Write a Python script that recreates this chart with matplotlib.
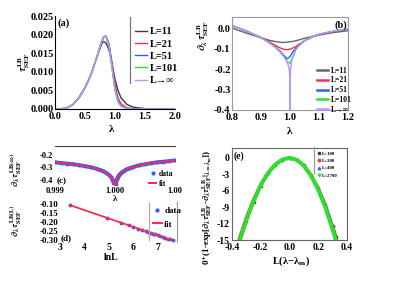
import matplotlib
matplotlib.use("Agg")
import matplotlib.pyplot as plt
from matplotlib.lines import Line2D

plt.rcParams["font.family"] = ["Liberation Serif", "DejaVu Serif"]
plt.rcParams["font.weight"] = "bold"
plt.rcParams["mathtext.fontset"] = "stix"
plt.rcParams["axes.unicode_minus"] = False

W, H = 399, 291

# ---- (a) tau_SEF^LB vs lambda
a_lam = [0.0, 0.1, 0.2, 0.3, 0.4, 0.5, 0.6, 0.7, 0.75, 0.8, 0.85, 0.9, 0.95,
         1.0, 1.05, 1.1, 1.2, 1.3, 1.5, 1.7, 2.0]
a_L11 = [0, 0.00003, 0.0003, 0.0012, 0.0031, 0.0058, 0.0093, 0.0140, 0.0163, 0.0182,
         0.0178, 0.0158, 0.0122, 0.0080, 0.0050, 0.0030, 0.0012, 0.0005, 0.0001, 0, 0]
a_L21 = [0, 0.00003, 0.0003, 0.0012, 0.0030, 0.0057, 0.0092, 0.0140, 0.0167, 0.0190,
         0.0196, 0.0176, 0.0125, 0.0066, 0.0030, 0.0014, 0.0003, 0.00005, 0, 0, 0]
a_L51 = [0, 0.00003, 0.0003, 0.0012, 0.0030, 0.0057, 0.0092, 0.0141, 0.0168, 0.0192,
         0.0197, 0.0172, 0.0115, 0.0055, 0.0022, 0.0009, 0.0001, 0, 0, 0, 0]
a_L101 = [0, 0.00003, 0.0003, 0.0012, 0.0030, 0.0057, 0.0092, 0.0141, 0.0168, 0.0192,
          0.0197, 0.0170, 0.0112, 0.0052, 0.0020, 0.0008, 0.0001, 0, 0, 0, 0]
a_Linf = [0, 0.00003, 0.0003, 0.0012, 0.0030, 0.0057, 0.0092, 0.0141, 0.0168, 0.0192,
          0.0196, 0.0168, 0.0110, 0.0050, 0.0018, 0.0007, 0.0001, 0, 0, 0, 0]

# ---- (b) derivative vs lambda
b_lam = [0.80, 0.85, 0.90, 0.93, 0.95, 0.97, 0.98, 0.99, 1.00, 1.01, 1.02, 1.03,
         1.05, 1.08, 1.10, 1.15, 1.20]
b_L11 = [0.0, -0.025, -0.048, -0.060, -0.066, -0.070, -0.070, -0.069, -0.067, -0.065,
         -0.062, -0.058, -0.050, -0.040, -0.034, -0.022, -0.013]
b_L21 = [0.012, -0.015, -0.045, -0.068, -0.085, -0.100, -0.104, -0.106, -0.103, -0.097,
         -0.090, -0.080, -0.062, -0.042, -0.033, -0.018, -0.008]
b_L51 = [0.012, -0.015, -0.047, -0.072, -0.092, -0.118, -0.135, -0.150, -0.140, -0.115,
         -0.098, -0.085, -0.062, -0.040, -0.031, -0.016, -0.006]
b_L101 = [0.012, -0.015, -0.047, -0.073, -0.094, -0.122, -0.140, -0.165, -0.172, -0.140,
          -0.105, -0.088, -0.062, -0.040, -0.030, -0.015, -0.005]
b_lam_inf = [0.80, 0.85, 0.90, 0.93, 0.95, 0.97, 0.98, 0.99, 0.995, 0.998, 0.999, 1.000,
             1.001, 1.002, 1.005, 1.01, 1.02, 1.03, 1.05, 1.08, 1.10, 1.15, 1.20]
b_Linf = [0.013, -0.015, -0.047, -0.073, -0.095, -0.124, -0.142, -0.165, -0.185, -0.21,
          -0.24, -0.40, -0.24, -0.20, -0.17, -0.14, -0.105, -0.088, -0.062, -0.040,
          -0.030, -0.015, -0.005]

# ---- (c) L -> inf derivative near lambda = 1
c_lam = [0.9990, 0.9991, 0.9992, 0.9993, 0.9994, 0.9995, 0.9996, 0.9997, 0.99975,
         0.9998, 0.99985, 0.9999, 0.99993, 0.99995, 0.99997, 0.99998, 0.99999, 1.0,
         1.00001, 1.00002, 1.00003, 1.00005, 1.00007, 1.0001, 1.00015, 1.0002,
         1.00025, 1.0003, 1.0004, 1.0005, 1.0006, 1.0007, 1.0008, 1.0009, 1.0010]
c_data = [-0.260, -0.265, -0.270, -0.275, -0.282, -0.290, -0.299, -0.312, -0.320,
          -0.329, -0.342, -0.359, -0.374, -0.389, -0.411, -0.428, -0.458, -0.47,
          -0.443, -0.413, -0.396, -0.374, -0.359, -0.344, -0.327, -0.314, -0.305,
          -0.297, -0.284, -0.275, -0.267, -0.260, -0.255, -0.250, -0.245]
c_fit = [-0.261, -0.265, -0.270, -0.276, -0.282, -0.290, -0.299, -0.311, -0.320,
         -0.329, -0.342, -0.359, -0.374, -0.389, -0.411, -0.428, -0.458, -0.47,
         -0.443, -0.413, -0.396, -0.374, -0.359, -0.344, -0.327, -0.314, -0.305,
         -0.297, -0.284, -0.275, -0.267, -0.261, -0.255, -0.250, -0.246]

# ---- (d) minimum of derivative vs lnL
d_lnL = [3.4, 4.9, 5.5, 5.8, 6.0, 6.2, 6.35, 6.5, 6.6, 6.7, 6.8, 6.9, 7.0, 7.1,
         7.2, 7.3, 7.4, 7.5, 7.6]
d_data = [-0.105, -0.175, -0.202, -0.216, -0.226, -0.235, -0.242, -0.249, -0.253,
          -0.258, -0.263, -0.267, -0.272, -0.277, -0.281, -0.286, -0.291, -0.295, -0.300]
d_fit_x = [3.4, 7.6]
d_fit_y = [-0.105, -0.300]

# ---- (e) scaling collapse
e_x = [-0.36, -0.345, -0.3, -0.25, -0.2, -0.15, -0.1, -0.05, 0.0, 0.05, 0.1, 0.15,
       0.2, 0.25, 0.3, 0.325, 0.34]
e_L100 = [-16.5, -15.2, -11.5, -8.0, -5.1, -2.85, -1.27, -0.33, 0, -0.34, -1.38,
          -3.1, -5.5, -8.6, -12.5, -14.5, -16.2]
e_L200 = [-15.7, -14.3, -10.8, -7.5, -4.8, -2.7, -1.2, -0.3, 0, -0.35, -1.4, -3.2,
          -5.6, -8.8, -12.7, -14.9, -16.5]
e_L400 = [-16.3, -14.9, -11.2, -7.85, -4.97, -2.78, -1.24, -0.32, 0, -0.35, -1.43,
          -3.25, -5.75, -9.0, -13.0, -15.2, -16.8]
e_L2700 = [-16.4, -15.0, -11.3, -7.9, -5.0, -2.8, -1.25, -0.32, 0, -0.36, -1.45,
           -3.3, -5.8, -9.1, -13.1, -15.3, -16.9]

GRAY, RED, BLUE, GREEN, PURPLE = "#3a3a3a", "#ff2a50", "#2f5cff", "#2ee02e", "#b596ff"


def box(l, t, r, b):
    return [l / W, 1 - b / H, (r - l) / W, (b - t) / H]


def vline_fig(fig, x, y0, y1, color="#777777", lw=0.9):
    fig.add_artist(Line2D([x / W, x / W], [1 - y0 / H, 1 - y1 / H],
                          color=color, lw=lw, transform=fig.transFigure))


fig = plt.figure(figsize=(W / 100, H / 100), dpi=100, facecolor="white")

# ================= (a)
ax = fig.add_axes(box(55, 16, 175, 109))
for y, c, lab in [(a_L11, GRAY, "L=11"), (a_L21, RED, "L=21"), (a_L51, BLUE, "L=51"),
                  (a_L101, GREEN, "L=101"), (a_Linf, PURPLE, "L→∞")]:
    ax.plot(a_lam, y, color=c, lw=1.0, label=lab)
ax.set_xlim(0, 2.0)
ax.set_ylim(0, 0.025)
ax.set_xticks([0.0, 0.5, 1.0, 1.5, 2.0])
ax.set_xticklabels(["0.0", "0.5", "1.0", "1.5", "2.0"])
ax.set_yticks([0, 0.005, 0.01, 0.015, 0.02, 0.025])
ax.set_yticklabels(["0.000", "0.005", "0.010", "0.015", "0.020", "0.025"])
for s in ["top", "right"]:
    ax.spines[s].set_visible(False)
ax.tick_params(length=0, labelsize=7.5, pad=1)
ax.tick_params(axis="x", pad=2.5)
ax.text(0.02, 0.9, "(a)", transform=ax.transAxes, fontsize=7.5, fontweight="bold")
ax.legend(loc="upper left", bbox_to_anchor=(130 / W, 1 - 22 / H),
          bbox_transform=fig.transFigure, frameon=False, fontsize=7.5,
          handlelength=1.1, handletextpad=0.3, borderpad=0, labelspacing=0.28)
vline_fig(fig, 130, 17, 83)
fig.text(112 / W, 1 - 129 / H, "λ", fontsize=8, ha="center", va="center")
fig.text(24 / W, 1 - 62 / H, r"$\tau^{\rm LB}_{\rm SEF}$", fontsize=7.5,
         rotation=90, ha="center", va="center")

# ================= (b)
ax = fig.add_axes(box(232, 17, 348, 110))
ax.plot(b_lam, b_L11, color="#666666", lw=1.0, label="L=11")
ax.plot(b_lam, b_L21, color=RED, lw=1.0, label="L=21")
ax.plot(b_lam, b_L51, color=BLUE, lw=1.0, label="L=51")
ax.plot(b_lam, b_L101, color=GREEN, lw=1.0, label="L=101")
ax.plot(b_lam_inf, b_Linf, color=PURPLE, lw=1.0, label="L→∞")
ax.set_xlim(0.8, 1.2)
ax.set_ylim(-0.4, 0.054)
ax.set_xticks([0.8, 0.9, 1.0, 1.1, 1.2])
ax.set_yticks([0.0, -0.1, -0.2, -0.3, -0.4])
ax.set_yticklabels(["0.0", "-0.1", "-0.2", "-0.3", "-0.4"])
for s in ax.spines.values():
    s.set_color("#999999")
    s.set_linewidth(0.8)
ax.tick_params(length=0, labelsize=7.5, pad=1)
ax.tick_params(axis="x", pad=2.5)
ax.text(0.88, 0.88, "(b)", transform=ax.transAxes, fontsize=7.5, fontweight="bold")
leg = ax.legend(loc="upper left", bbox_to_anchor=(313 / W, 1 - 63 / H),
                bbox_transform=fig.transFigure, frameon=False, fontsize=5.5,
                handlelength=1.5, handletextpad=0.4, borderpad=0, labelspacing=0.22)
for h in leg.get_lines():
    h.set_linewidth(1.8)
fig.text(290 / W, 1 - 132 / H, "λ", fontsize=8, ha="center", va="center")
fig.text(203 / W, 1 - 36 / H, r"$\partial_\lambda\,\tau^{\rm LB}_{\rm SEF}$", fontsize=7.5,
         rotation=90, ha="center", va="center")

# ================= (c)
ax = fig.add_axes(box(55, 146, 175, 185))
ax.plot(c_lam, c_data, color=BLUE, lw=2.8, marker="o", ms=1.8)
ax.plot(c_lam, c_fit, color=RED, lw=1.3)
ax.set_xlim(0.999, 1.001)
ax.set_ylim(-0.44, -0.13)
ax.set_xticks([0.999, 1.000, 1.001])
ax.set_xticklabels(["0.999", "1.000", "1.00"])
ax.set_yticks([-0.2, -0.3, -0.4])
ax.set_yticklabels(["-0.2", "-0.3", "-0.4"])
for s in ["left", "right", "bottom"]:
    ax.spines[s].set_visible(False)
ax.spines["top"].set_color("#444444")
ax.tick_params(length=0, labelsize=6, pad=1.5)
ax.text(0.01, 0.05, "(c)", transform=ax.transAxes, fontsize=6.5, fontweight="bold")
ax.legend([Line2D([], [], ls="none", marker="o", ms=2, color=BLUE),
           Line2D([], [], color=RED, lw=1.5)], ["data", "fit"],
          loc="upper left", bbox_to_anchor=(145 / W, 1 - 166 / H),
          bbox_transform=fig.transFigure, frameon=False, fontsize=5.5,
          handlelength=1.0, handletextpad=0.3, borderpad=0, labelspacing=0.3)
fig.text(115 / W, 1 - 199 / H, "λ", fontsize=6.5, ha="center", va="center")
fig.text(16 / W, 1 - 170 / H, r"$\partial_\lambda\,\tau^{\rm LB(\infty)}_{\rm SEF}$",
         fontsize=6.5, rotation=90, ha="center", va="center")

# ================= (d)
ax = fig.add_axes(box(60, 202, 177, 242))
ax.plot(d_lnL, d_data, ls="none", marker="o", ms=1.8, color=BLUE)
ax.plot(d_fit_x, d_fit_y, color=RED, lw=1.3)
ax.set_xlim(3.0, 7.78)
ax.set_ylim(-0.309, -0.088)
ax.set_xticks([3, 4, 5, 6, 7])
ax.set_yticks([-0.10, -0.15, -0.20, -0.25, -0.30])
ax.set_yticklabels(["-0.10", "-0.15", "-0.20", "-0.25", "-0.30"])
for s in ["left", "top", "bottom"]:
    ax.spines[s].set_visible(False)
ax.spines["right"].set_color("#999999")
ax.tick_params(length=0, labelsize=6.5, pad=1)
ax.tick_params(axis="x", labelsize=7)
ax.text(0.005, 0.04, "(d)", transform=ax.transAxes, fontsize=6.5, fontweight="bold")
ax.legend([Line2D([], [], ls="none", marker="o", ms=2, color=BLUE),
           Line2D([], [], color=RED, lw=1.5)], ["data", "fit"],
          loc="upper left", bbox_to_anchor=(148 / W, 1 - 202 / H),
          bbox_transform=fig.transFigure, frameon=False, fontsize=6.5,
          handlelength=1.0, handletextpad=0.3, borderpad=0, labelspacing=0.6)
vline_fig(fig, 149, 203, 240, color="#aaaaaa")
fig.text(111 / W, 1 - 257 / H, "lnL", fontsize=7, ha="center", va="center")
fig.text(16 / W, 1 - 221 / H, r"$\partial_\lambda\,\tau^{\rm LB(L)}_{\rm SEF}$",
         fontsize=6.5, rotation=90, ha="center", va="center")

# ================= (e)
ax = fig.add_axes(box(232, 148, 347, 240))
ax.plot(e_x, e_L100, color=GRAY, lw=2.0, marker="s", ms=1.5, label="L=100")
ax.plot(e_x, e_L200, color=RED, lw=2.0, marker="o", ms=1.5, label="L=200")
ax.plot(e_x, e_L400, color=BLUE, lw=2.0, marker="^", ms=1.5, label="L=400")
ax.plot(e_x, e_L2700, color=GREEN, lw=2.8, marker="v", ms=1.8, label="L=2700")
ax.set_xlim(-0.4, 0.4)
ax.set_ylim(-15, 1.8)
ax.set_xticks([-0.4, -0.2, 0.0, 0.2, 0.4])
ax.set_xticklabels(["-0.4", "-0.2", "0.0", "0.2", "0.4"])
ax.set_yticks([0, -3, -6, -9, -12, -15])
ax.set_yticklabels(["0", "-3", "-6", "-9", "-12", "-15"])
for s in ax.spines.values():
    s.set_color("#666666")
    s.set_linewidth(0.8)
ax.tick_params(length=0, labelsize=7, pad=1.5)
ax.tick_params(axis="x", pad=2.5)
ax.text(0.01, 0.88, "(e)", transform=ax.transAxes, fontsize=7, fontweight="bold")
ax.legend([Line2D([], [], ls="none", marker=m, ms=1.8, color=c)
           for m, c in [("s", GRAY), ("o", RED), ("^", BLUE), ("v", GREEN)]],
          ["L=100", "L=200", "L=400", "L=2700"],
          loc="upper left", bbox_to_anchor=(315 / W, 1 - 149 / H),
          bbox_transform=fig.transFigure, frameon=False, fontsize=3.5,
          handlelength=0.6, handletextpad=0.3, borderpad=0, labelspacing=0.6)
vline_fig(fig, 314, 147, 173, color="#999999")
fig.text(291 / W, 1 - 261 / H, r"L(λ−λ$_{\rm m}$)", fontsize=7.5, ha="center", va="center")
fig.text(207 / W, 1 - 207 / H,
         r"0$^{+}$(1-exp[$\partial_\lambda\tau^{\rm LB}_{\rm SEF}$-"
         r"$\partial_\lambda\tau^{\rm LB}_{\rm SEF}|_{\lambda=\lambda_{\rm m}}$])",
         fontsize=6.5, rotation=90, ha="center", va="center")

fig.savefig("out.png", dpi=100, facecolor="white")
